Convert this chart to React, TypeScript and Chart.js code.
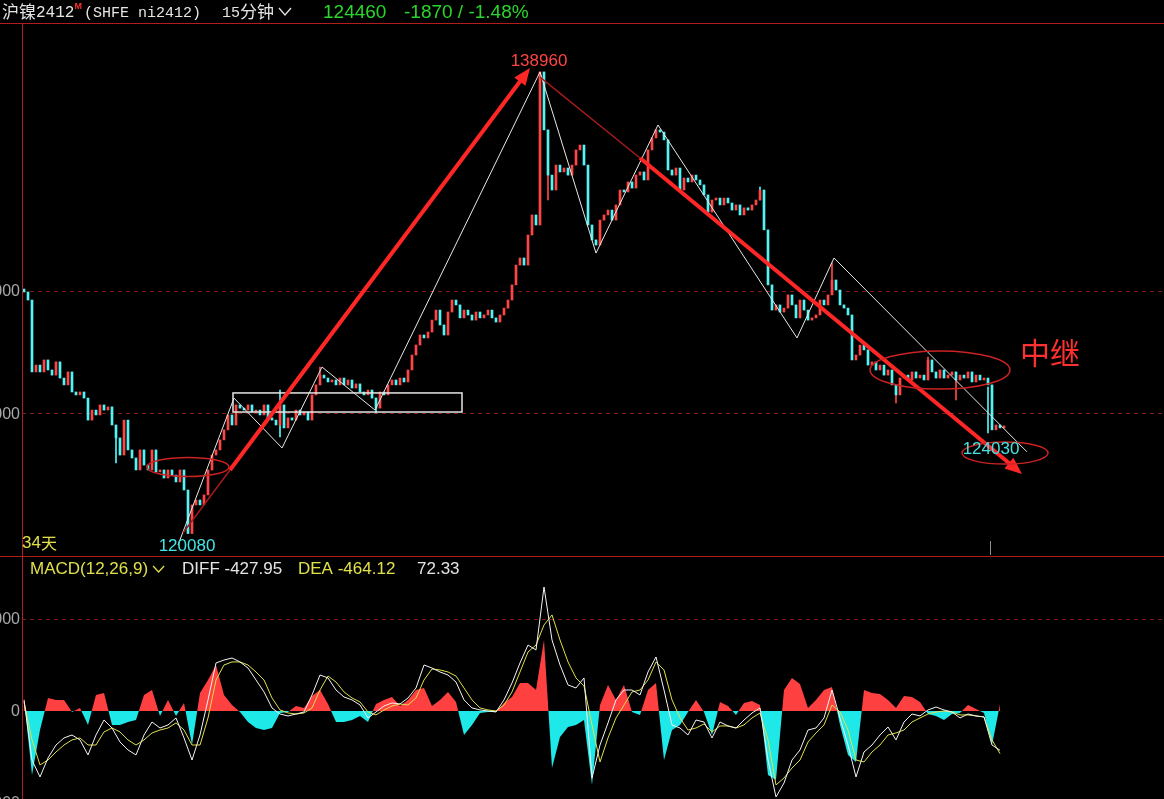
import React, { useEffect, useRef } from "react";
import { Chart, registerables } from "chart.js";

Chart.register(...registerables);

// ---------------- data ----------------
const openingPrice = 130080;
const prevSettlement = 126330;

// 15-minute closes, ni2412 (one entry per bar slot)
const closePrices = [
  129960, 129630, 126690, 126970, 126690, 127180, 126770, 126560, 127100, 126440,
  126160, 126690, 125870, 125750, 125870, 125620, 124720, 125130, 124930, 125340,
  125130, 125260, 124520, 123990, 123290, 124720, 123500, 123170, 122680, 123500,
  122880, 122680, 123500, 122600, 122680, 122350, 122680, 122470, 122190, 122680,
  121860, 120080, 121250, 121450, 121250, 121660, 122680, 123290, 123500, 123910,
  124320, 124930, 124520, 125340, 125210, 125130, 125340, 125050, 125130, 124930,
  125340, 124810, 124720, 124520, 125340, 124400, 124810, 124720, 125130, 124930,
  125050, 124720, 125750, 126160, 126560, 126440, 126280, 126360, 126160, 126440,
  126160, 126360, 126030, 126200, 125870, 125750, 125950, 125620, 125210, 125870,
  125750, 126160, 126360, 126160, 126440, 126280, 126770, 127380, 127790, 128200,
  128080, 128320, 128810, 129220, 128610, 128200, 129140, 129630, 129430, 128900,
  129220, 129020, 128810, 129140, 128900, 129020, 129220, 128900, 128730, 129020,
  129300, 129630, 130250, 131060, 131350, 131060, 132290, 133110, 132700, 138960,
  136590, 134740, 134130, 135150, 134870, 135030, 134740, 135150, 135770, 135970,
  135150, 132700, 132090, 131880, 132900, 133110, 133310, 132900, 133520, 134130,
  134050, 134460, 134210, 134740, 134870, 134540, 135770, 136260, 136590, 136500,
  136180, 134950, 134740, 135030, 134130, 134620, 134460, 134740, 134540, 134340,
  133930, 133230, 133720, 133800, 133520, 133800, 133600, 133310, 133520, 133110,
  133400, 133310, 133520, 133720, 134130, 132500, 130250, 129220, 129430, 129140,
  129300, 129840, 129430, 128900, 129630, 129220, 128810, 128900, 129020, 129630,
  129430, 129840, 130450, 130040, 129430, 129300, 129020, 127180, 127380, 127790,
  127590, 126970, 127100, 126770, 126970, 126560, 126770, 126160, 125750, 126440,
  126560, 126360, 126690, 126440, 126560, 126360, 127180, 126690, 126440, 126770,
  126440, 126560, 126690, 126360, 126560, 126440, 126690, 126280, 126560, 126360,
  126440, 126160, 124320, 124520, 124400, 124460,
];

// visible long shadows: [bar index, low, high, 1 = up colour / 0 = down colour]
const wickRanges = [
  [23, 122970, 124030, 0],
  [64, 124030, 125950, 0],
  [74, 126160, 126890, 1],
  [88, 125010, 125620, 0],
  [131, 133720, 135350, 1],
  [184, 133720, 134250, 0],
  [202, 130040, 131150, 1],
  [218, 125420, 126160, 1],
  [226, 126690, 127300, 1],
  [233, 125540, 126360, 1],
  [241, 124190, 126070, 0],
];

// MACD(12,26,9), one entry every second bar slot
const diffValues = [
  120, -533, -717, -511, -370, -293, -261, -315, -478, -261,
  -98, -185, -337, -424, -478, -261, -120, -185, -152, -76,
  -293, -533, -261, 120, 522, 554, 576, 533, 467, 337,
  207, 33, -33, -54, -33, -11, 174, 391, 359, 228,
  152, 120, 65, -76, -11, 54, 87, 76, 141, 250,
  500, 467, 424, 391, 315, 120, 33, 11, 0, -11,
  120, 304, 522, 717, 663, 1348, 772, 500, 283, 250,
  359, -728, -370, -130, 120, 228, 228, 174, 424, 587,
  228, -152, -185, -261, -98, -120, -293, -120, -163, -185,
  -98, -22, 33, -533, -935, -783, -533, -424, -207, -185,
  -76, 228, -76, -370, -717, -446, -370, -261, -174, -315,
  -120, -33, -54, 11, 43, 11, -11, -76, -33, -54,
  -65, -370, -427.95,
];
const deaValues = [
  98, -315, -587, -533, -446, -370, -315, -293, -370, -370,
  -228, -185, -228, -315, -370, -315, -239, -207, -185, -130,
  -207, -370, -370, -76, 337, 500, 533, 533, 500, 424,
  337, 141, 11, -22, -33, -22, 33, 228, 380, 315,
  207, 141, 98, -11, -43, 11, 54, 76, 65, 141,
  337, 457, 446, 424, 380, 250, 120, 33, 11, 0,
  65, 207, 424, 641, 717, 935, 1044, 772, 533, 359,
  272, -152, -554, -293, -76, 65, 207, 228, 337, 533,
  446, 120, -76, -207, -185, -141, -228, -163, -163, -185,
  -152, -76, -22, -315, -804, -728, -620, -533, -337, -239,
  -152, 65, -11, -207, -533, -554, -446, -370, -261, -239,
  -207, -120, -76, -33, -11, 0, -11, -43, -43, -54,
  -65, -315, -464.12,
];
const macdValues = [
  141, -696, -207, 141, 120, 120, -11, 33, -152, 174,
  196, -152, -152, -120, -98, 174, 228, -54, 120, -54,
  87, -370, 196, 337, 500, 174, 65, -11, -120, -185,
  -207, -185, -22, -11, 54, 33, 163, 228, 76, -120,
  -120, -98, -54, -120, 76, 120, 152, 54, 120, 228,
  250, 54, 120, 207, 98, -261, -152, -22, -11, -11,
  87, 152, 304, 304, 228, 772, -620, -283, -174, -152,
  -98, -804, 65, 283, 120, 283, -11, -43, 228, 304,
  -533, -207, -152, -11, 120, -11, -261, 98, 54, -43,
  87, 109, 65, -696, -750, 228, 359, 293, 33, 120,
  228, 261, -152, -478, -554, 228, 196, 185, 120, 33,
  163, 152, 98, -33, -54, -98, -33, -22, 65, 22,
  -22, -370, 72.33,
];

const priceGridLevels = [130000, 125000];
const macdGridLevels = [1000, 0, -1000];
const priceAxisMin = 119202;
const priceAxisMax = 140920;
const macdAxisMin = -957;
const macdAxisMax = 1674;

const SLOT_COUNT = 285;
const slotLabels = Array.from({ length: SLOT_COUNT }, (_, i) => String(i));

// annotations: [bar index, price]
const peakMark = { index: 129, price: 138960 };
const lowMark = { index: 40.75, price: 120080 };
const recentLowMark = { index: 241.75, price: 124030 };
const zigzagPoints = [
  [38.5, 119610], [52.5, 125620], [64.5, 123580], [74.5, 126890], [87.75, 125130],
  [129, 138960], [143, 131550], [158.5, 136790], [193.25, 128080], [202.5, 131350],
  [250.75, 123420],
];
const riseArrow = [[39.75, 120100], [51.5, 122680], [126.5, 139120]];
const fallArrow = [[129, 138750], [154, 135440], [249.5, 122520]];
const consolidationBox = { from: 52.25, to: 109.5, low: 125050, high: 125830 };
const ellipseMarks = [
  { index: 41, price: 122800, rx: 10.25, ry: 390 },
  { index: 229, price: 126770, rx: 17.5, ry: 780 },
  { index: 245.25, price: 123370, rx: 10.75, ry: 450 },
];
const relayLabel = { index: 256.5, price: 127500, text: "中继" };
const cursorIndex = 241.5;

// ---------------- styles ----------------
const FONT_SANS = '"Liberation Sans", Arial, sans-serif';
const FONT_CJK = '"Noto Sans CJK SC", sans-serif';
const FONT_MONO = '"Liberation Mono", monospace';
const FRAME_RED = "#b01e1e";
const GRID_RED = "#7c1d1d";
const UP_RED = "#ff4646";
const DOWN_CYAN = "#54f4f4";
const HIST_RED = "#ff4040";
const HIST_CYAN = "#1ee8e8";
const AXIS_GREY = "#a8a8a8";
const TEXT_WHITE = "#e4e4e4";
const YELLOW = "#e0e04a";
const GREEN = "#2ad62a";

type Part = { text: string; font: string; color: string; dy?: number; gap?: number };
function runText(ctx: CanvasRenderingContext2D, parts: Part[], x: number, y: number) {
  let cx = x;
  for (const p of parts) {
    ctx.font = p.font;
    ctx.fillStyle = p.color;
    ctx.fillText(p.text, cx, y + (p.dy || 0));
    cx += ctx.measureText(p.text).width + (p.gap || 0);
  }
  return cx;
}

function chevron(ctx: CanvasRenderingContext2D, x: number, y: number, w: number, h: number, color: string) {
  ctx.strokeStyle = color;
  ctx.lineWidth = 1.3;
  ctx.beginPath();
  ctx.moveTo(x, y);
  ctx.lineTo(x + w / 2, y + h);
  ctx.lineTo(x + w, y);
  ctx.stroke();
}

function arrowLine(
  ctx: CanvasRenderingContext2D,
  x0: number, y0: number, x1: number, y1: number, color: string, width: number
) {
  const a = Math.atan2(y1 - y0, x1 - x0);
  const len = 17;
  const half = 7;
  ctx.strokeStyle = color;
  ctx.fillStyle = color;
  ctx.lineWidth = width;
  ctx.beginPath();
  ctx.moveTo(x0, y0);
  ctx.lineTo(x1 - (len - 2) * Math.cos(a), y1 - (len - 2) * Math.sin(a));
  ctx.stroke();
  ctx.beginPath();
  ctx.moveTo(x1, y1);
  ctx.lineTo(x1 - len * Math.cos(a) + half * Math.sin(a), y1 - len * Math.sin(a) - half * Math.cos(a));
  ctx.lineTo(x1 - len * Math.cos(a) - half * Math.sin(a), y1 - len * Math.sin(a) + half * Math.cos(a));
  ctx.closePath();
  ctx.fill();
}

const mainDecor = {
  id: "mainDecor",
  beforeDraw(chart: any) {
    const { ctx, width, height, chartArea } = chart;
    const ys = chart.scales.y;
    ctx.save();
    ctx.fillStyle = "#000";
    ctx.fillRect(0, 0, width, height);
    ctx.strokeStyle = GRID_RED;
    ctx.lineWidth = 1;
    ctx.setLineDash([4, 4]);
    priceGridLevels.forEach((v) => {
      const py = Math.round(ys.getPixelForValue(v)) + 0.5;
      ctx.beginPath();
      ctx.moveTo(chartArea.left, py);
      ctx.lineTo(width, py);
      ctx.stroke();
    });
    ctx.setLineDash([]);
    ctx.fillStyle = AXIS_GREY;
    ctx.font = `16px ${FONT_SANS}`;
    ctx.textAlign = "right";
    ctx.textBaseline = "middle";
    priceGridLevels.forEach((v) => ctx.fillText(String(v), 20, ys.getPixelForValue(v) + 1));
    ctx.restore();
  },
  afterDatasetsDraw(chart: any) {
    const { ctx } = chart;
    const X = (i: number) => chart.scales.x.getPixelForValue(i);
    const Y = (p: number) => chart.scales.y.getPixelForValue(p);
    ctx.save();
    // consolidation box
    ctx.strokeStyle = "#e6e6e6";
    ctx.lineWidth = 1.5;
    const b = consolidationBox;
    ctx.strokeRect(X(b.from), Y(b.high), X(b.to) - X(b.from), Y(b.low) - Y(b.high));
    // zigzag
    ctx.strokeStyle = "#e8e8e8";
    ctx.lineWidth = 1;
    ctx.beginPath();
    zigzagPoints.forEach(([i, p], k) => (k === 0 ? ctx.moveTo(X(i), Y(p)) : ctx.lineTo(X(i), Y(p))));
    ctx.stroke();
    // trend arrows
    [riseArrow, fallArrow].forEach((arr) => {
      ctx.strokeStyle = "#a51a1a";
      ctx.lineWidth = 1.5;
      ctx.beginPath();
      ctx.moveTo(X(arr[0][0]), Y(arr[0][1]));
      ctx.lineTo(X(arr[1][0]), Y(arr[1][1]));
      ctx.stroke();
      arrowLine(ctx, X(arr[1][0]), Y(arr[1][1]), X(arr[2][0]), Y(arr[2][1]), "#ff2626", 4);
    });
    // ellipses
    ctx.strokeStyle = "#cc2222";
    ctx.lineWidth = 1.5;
    ellipseMarks.forEach((e) => {
      const cx = X(e.index);
      const cy = Y(e.price);
      ctx.beginPath();
      ctx.ellipse(cx, cy, X(e.index + e.rx) - cx, cy - Y(e.price + e.ry), 0, 0, Math.PI * 2);
      ctx.stroke();
    });
    // price labels
    ctx.textAlign = "center";
    ctx.font = `17px ${FONT_SANS}`;
    ctx.textBaseline = "bottom";
    ctx.fillStyle = "#ff4444";
    ctx.fillText(String(peakMark.price), X(peakMark.index) - 1, Y(peakMark.price) - 2);
    ctx.textBaseline = "top";
    ctx.fillStyle = "#44e4e4";
    ctx.fillText(String(lowMark.price), X(lowMark.index), Y(lowMark.price) + 4);
    ctx.fillText(String(recentLowMark.price), X(recentLowMark.index), Y(recentLowMark.price) + 4);
    ctx.textBaseline = "middle";
    ctx.fillStyle = "#ff3030";
    ctx.font = `30px ${FONT_CJK}`;
    ctx.fillText(relayLabel.text, X(relayLabel.index), Y(relayLabel.price));
    ctx.restore();
  },
  afterDraw(chart: any) {
    const { ctx, width, height, chartArea } = chart;
    ctx.save();
    // frame
    ctx.strokeStyle = FRAME_RED;
    ctx.lineWidth = 1;
    ctx.beginPath();
    ctx.moveTo(0, 23.5);
    ctx.lineTo(width, 23.5);
    ctx.moveTo(22.5, 23);
    ctx.lineTo(22.5, height);
    ctx.stroke();
    // cursor tick
    ctx.strokeStyle = "#909090";
    ctx.beginPath();
    const cx = Math.round(chart.scales.x.getPixelForValue(cursorIndex)) + 0.5;
    ctx.moveTo(cx, chartArea.bottom - 14);
    ctx.lineTo(cx, chartArea.bottom);
    ctx.stroke();
    // header
    ctx.textAlign = "left";
    ctx.textBaseline = "middle";
    const hy = 12;
    const endName = runText(ctx, [
      { text: "沪镍", font: `17px ${FONT_CJK}`, color: TEXT_WHITE },
      { text: "2412", font: `16px ${FONT_MONO}`, color: TEXT_WHITE, dy: 1 },
    ], 2, hy);
    ctx.font = `bold 9px ${FONT_SANS}`;
    ctx.fillStyle = "#ff3030";
    ctx.fillText("M", endName, 7);
    runText(ctx, [{ text: "(SHFE ni2412)", font: `15px ${FONT_MONO}`, color: TEXT_WHITE, dy: 1 }], 84, hy);
    runText(ctx, [
      { text: "15", font: `15px ${FONT_MONO}`, color: TEXT_WHITE, dy: 1 },
      { text: "分钟", font: `17px ${FONT_CJK}`, color: TEXT_WHITE },
    ], 222, hy);
    chevron(ctx, 279, 8, 12, 7, TEXT_WHITE);
    const last = closePrices[closePrices.length - 1];
    const chg = last - prevSettlement;
    const pct = (chg / prevSettlement) * 100;
    ctx.font = `19px ${FONT_SANS}`;
    ctx.fillStyle = GREEN;
    ctx.fillText(String(last), 323, hy + 1);
    ctx.fillText(`${chg} / ${pct.toFixed(2)}%`, 404, hy + 1);
    // day count
    runText(ctx, [
      { text: "34", font: `17px ${FONT_SANS}`, color: YELLOW },
      { text: "天", font: `16px ${FONT_CJK}`, color: YELLOW },
    ], 22, chartArea.bottom - 12);
    ctx.restore();
  },
};

const macdDecor = {
  id: "macdDecor",
  beforeDraw(chart: any) {
    const { ctx, width, height, chartArea } = chart;
    const ys = chart.scales.y;
    ctx.save();
    ctx.fillStyle = "#000";
    ctx.fillRect(0, 0, width, height);
    ctx.strokeStyle = GRID_RED;
    ctx.lineWidth = 1;
    ctx.setLineDash([4, 4]);
    macdGridLevels.filter((v) => v !== 0).forEach((v) => {
      const py = Math.round(ys.getPixelForValue(v)) + 0.5;
      ctx.beginPath();
      ctx.moveTo(chartArea.left, py);
      ctx.lineTo(width, py);
      ctx.stroke();
    });
    ctx.restore();
  },
  afterDraw(chart: any) {
    const { ctx, width, height } = chart;
    const ys = chart.scales.y;
    ctx.save();
    ctx.strokeStyle = FRAME_RED;
    ctx.lineWidth = 1;
    ctx.beginPath();
    ctx.moveTo(0, 0.5);
    ctx.lineTo(width, 0.5);
    ctx.moveTo(22.5, 0);
    ctx.lineTo(22.5, height);
    ctx.stroke();
    ctx.fillStyle = AXIS_GREY;
    ctx.font = `16px ${FONT_SANS}`;
    ctx.textAlign = "right";
    ctx.textBaseline = "middle";
    macdGridLevels.forEach((v) => ctx.fillText(String(v), 20, ys.getPixelForValue(v) + 1));
    ctx.textAlign = "left";
    const ty = 13;
    const f = `17px ${FONT_SANS}`;
    const endM = runText(ctx, [{ text: "MACD(12,26,9)", font: f, color: YELLOW }], 30, ty);
    chevron(ctx, endM + 5, ty - 3, 11, 6, YELLOW);
    const n = diffValues.length - 1;
    runText(ctx, [{ text: `DIFF ${diffValues[n].toFixed(2)}`, font: f, color: TEXT_WHITE }], 182, ty);
    runText(ctx, [{ text: `DEA ${deaValues[n].toFixed(2)}`, font: f, color: YELLOW }], 298, ty);
    runText(ctx, [{ text: macdValues[n].toFixed(2), font: f, color: TEXT_WHITE }], 417, ty);
    ctx.restore();
  },
};

function spreadEvery2(vals: number[]) {
  const arr: (number | null)[] = new Array(SLOT_COUNT).fill(null);
  vals.forEach((v, k) => {
    arr[2 * k] = v;
  });
  return arr;
}

export default function App() {
  const mainRef = useRef<HTMLCanvasElement | null>(null);
  const macdRef = useRef<HTMLCanvasElement | null>(null);

  useEffect(() => {
    document.body.style.margin = "0";
    document.body.style.background = "#000";

    const candleBars = closePrices.map((c, i) => [i === 0 ? openingPrice : closePrices[i - 1], c]);
    const candleColors = closePrices.map((c, i) => {
      const o = i === 0 ? openingPrice : closePrices[i - 1];
      return c >= o ? UP_RED : DOWN_CYAN;
    });
    const wickData: any[] = new Array(SLOT_COUNT).fill(null);
    const wickColors: string[] = new Array(SLOT_COUNT).fill(UP_RED);
    wickRanges.forEach(([i, lo, hi, up]) => {
      wickData[i] = [lo, hi];
      wickColors[i] = up ? UP_RED : DOWN_CYAN;
    });

    const main = new Chart(mainRef.current as HTMLCanvasElement, {
      type: "bar",
      data: {
        labels: slotLabels,
        datasets: [
          {
            data: wickData,
            backgroundColor: wickColors,
            borderWidth: 0,
            barThickness: 1,
            grouped: false,
            order: 2,
          },
          {
            data: candleBars as any,
            backgroundColor: candleColors,
            borderWidth: 0,
            barThickness: 2,
            minBarLength: 2,
            grouped: false,
            order: 1,
          },
        ],
      },
      options: {
        responsive: false,
        animation: false,
        devicePixelRatio: 1,
        events: [],
        layout: { padding: { left: 22, right: 2, top: 24, bottom: 1 } },
        plugins: { legend: { display: false }, tooltip: { enabled: false } },
        scales: {
          x: { type: "category", display: false, offset: true },
          y: { display: false, min: priceAxisMin, max: priceAxisMax },
        },
      },
      plugins: [mainDecor],
    });

    const macd = new Chart(macdRef.current as HTMLCanvasElement, {
      type: "line",
      data: {
        labels: slotLabels,
        datasets: [
          {
            data: spreadEvery2(macdValues) as any,
            borderWidth: 0,
            borderColor: "rgba(0,0,0,0)",
            pointRadius: 0,
            spanGaps: true,
            tension: 0,
            fill: { target: "origin", above: HIST_RED, below: HIST_CYAN },
            order: 3,
          },
          {
            data: spreadEvery2(deaValues) as any,
            borderColor: YELLOW,
            borderWidth: 1,
            pointRadius: 0,
            spanGaps: true,
            tension: 0,
            fill: false,
            order: 2,
          },
          {
            data: spreadEvery2(diffValues) as any,
            borderColor: "#f4f4f4",
            borderWidth: 1,
            pointRadius: 0,
            spanGaps: true,
            tension: 0,
            fill: false,
            order: 1,
          },
        ],
      },
      options: {
        responsive: false,
        animation: false,
        devicePixelRatio: 1,
        events: [],
        layout: { padding: { left: 22, right: 2, top: 1, bottom: 0 } },
        plugins: { legend: { display: false }, tooltip: { enabled: false } },
        scales: {
          x: { type: "category", display: false, offset: true },
          y: { display: false, min: macdAxisMin, max: macdAxisMax },
        },
      },
      plugins: [macdDecor],
    });

    return () => {
      main.destroy();
      macd.destroy();
    };
  }, []);

  return (
    <div style={{ position: "fixed", left: 0, top: 0, width: 1164, height: 799, background: "#000", overflow: "hidden" }}>
      <canvas ref={mainRef} width={1164} height={556} style={{ position: "absolute", left: 0, top: 0 }} />
      <canvas ref={macdRef} width={1164} height={243} style={{ position: "absolute", left: 0, top: 556 }} />
    </div>
  );
}
